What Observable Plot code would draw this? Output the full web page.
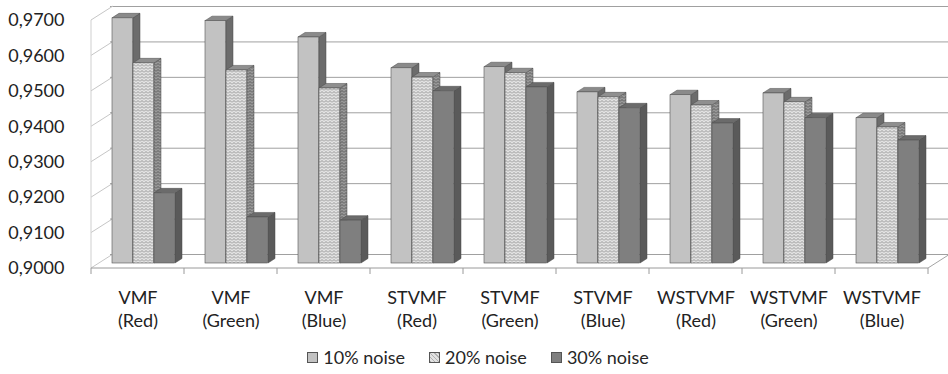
<!DOCTYPE html>
<html>
<head>
<meta charset="utf-8">
<script src="https://cdn.jsdelivr.net/npm/d3@7"></script>
<script src="https://cdn.jsdelivr.net/npm/@observablehq/plot@0.6"></script>
<style>
  body { margin: 0; background: #fff; font-family: Lato, "Open Sans", sans-serif; }
  #chart { width: 948px; height: 374px; overflow: hidden; }
  #chart svg { display: block; }
  .legend { display: flex; justify-content: center; align-items: center; height: 34px;
            padding-left: 8px; font-size: 18px; color: #262626; }
  .legend .item { display: flex; align-items: center; margin: 0 12px; }
  .legend .sw { width: 9px; height: 9px; border: 1px solid #555; margin-right: 5px; display: inline-block; }
</style>
</head>
<body>
<div id="chart"></div>
<script>
// Filter methods and colour channels, one group per category
const methods  = ["VMF", "VMF", "VMF", "STVMF", "STVMF", "STVMF", "WSTVMF", "WSTVMF", "WSTVMF"];
const channels = ["Red", "Green", "Blue", "Red", "Green", "Blue", "Red", "Green", "Blue"];

// Scores per noise level
const noise10 = [0.9692, 0.9684, 0.9638, 0.9551, 0.9554, 0.9483, 0.9475, 0.9480, 0.9410];
const noise20 = [0.9565, 0.9545, 0.9494, 0.9525, 0.9537, 0.9469, 0.9446, 0.9455, 0.9384];
const noise30 = [0.9198, 0.9130, 0.9121, 0.9486, 0.9497, 0.9438, 0.9395, 0.9410, 0.9347];

const seriesNames = ["10% noise", "20% noise", "30% noise"];
const yTicks = [0.90, 0.91, 0.92, 0.93, 0.94, 0.95, 0.96, 0.97];

const categories = methods.map((m, i) => `${m}\n(${channels[i]})`);
const seriesValues = [noise10, noise20, noise30];
const rows = categories.map((c, i) => ({category: c, values: seriesValues.map(v => v[i])}));

// Layout of the pseudo-3D frame
const W = 948, H = 340;
const frontLeft = 88, frontRight = 930, floorY = 268, topY = 20;
const wallDx = 22, wallDy = -14;      // back wall offset
const barDx = 8, barDy = -5;          // bars' front plane
const depthDx = 7, depthDy = -4.5;    // bar thickness
const step = (frontRight - frontLeft) / categories.length;
const groupInset = 13, barW = 21;
const yMin = yTicks[0];

const frontFill = ["#c2c2c2", "url(#zz-front)", "#7f7f7f"];
const topFill   = ["#8a8a8a", "#8f8f8f", "#6b6b6b"];
const sideFill  = ["#6c6c6c", "url(#zz-side)", "#5a5a5a"];

const fmtTick = d => d.toFixed(4).replace(".", ",");

const chart = Plot.plot({
  width: W,
  height: H,
  marginLeft: frontLeft,
  marginRight: W - frontRight,
  marginTop: topY,
  marginBottom: H - floorY,
  style: {fontFamily: "Lato, sans-serif", fontSize: "18px", color: "#262626", background: "#fff", overflow: "visible"},
  x: {type: "band", domain: categories, padding: 0, label: null},
  y: {domain: [yMin, yTicks[yTicks.length - 1]], label: null},
  marks: [
    // back-wall gridlines
    Plot.ruleY(yTicks, {dx: wallDx, dy: wallDy, stroke: "#a0a0a0", strokeWidth: 1}),
    Plot.axisY(yTicks, {tickSize: 0, tickPadding: 24, tickFormat: fmtTick, fontSize: 18, fill: "#222"}),
    Plot.axisX({tickSize: 0, tickPadding: 18, lineHeight: 1.33, fontSize: 18, fill: "#222"}),
    // front faces of the columns
    ...seriesValues.map((vals, s) => Plot.barY(rows, {
      x: "category",
      y1: () => yMin,
      y2: d => d.values[s],
      insetLeft: groupInset + barW * s,
      insetRight: step - groupInset - barW * (s + 1),
      dx: barDx,
      dy: barDy,
      fill: frontFill[s],
      stroke: "#555",
      strokeWidth: 0.6
    }))
  ]
});

document.getElementById("chart").appendChild(chart);

// Patterns, walls and column depth drawn with Plot's own scales
const svg = d3.select(chart);
const xs = chart.scale("x"), ys = chart.scale("y");
const defs = svg.insert("defs", ":first-child");
function zigzag(id, bg, fg) {
  const p = defs.append("pattern").attr("id", id).attr("patternUnits", "userSpaceOnUse")
    .attr("width", 4).attr("height", 3);
  p.append("rect").attr("width", 4).attr("height", 3).attr("fill", bg);
  p.append("path").attr("d", "M0,2.5 L2,0.5 L4,2.5").attr("fill", "none").attr("stroke", fg).attr("stroke-width", 0.9);
}
zigzag("zz-front", "#e2e2e2", "#8e8e8e");
zigzag("zz-side", "#999", "#555");

const firstBar = svg.select("g[aria-label='bar']").node();
const walls = svg.insert("g", () => firstBar).attr("fill", "none");
const y0 = ys.apply(yMin);
const xL = xs.apply(categories[0]);
const xR = xs.apply(categories[categories.length - 1]) + xs.bandwidth;

// left wall diagonals
for (const t of yTicks) {
  const y = ys.apply(t);
  walls.append("line").attr("x1", xL).attr("y1", y).attr("x2", xL + wallDx).attr("y2", y + wallDy)
    .attr("stroke", "#c6c6c6");
}
walls.append("line").attr("x1", xL).attr("y1", y0).attr("x2", xL).attr("y2", ys.apply(yTicks[yTicks.length - 1]))
  .attr("stroke", "#cfcfcf");
// floor edges and category ticks
walls.append("line").attr("x1", xL).attr("y1", y0).attr("x2", xR).attr("y2", y0).attr("stroke", "#9a9a9a");
walls.append("line").attr("x1", xR).attr("y1", y0).attr("x2", xR + wallDx).attr("y2", y0 + wallDy).attr("stroke", "#a4a4a4");
for (let k = 0; k <= categories.length; k++) {
  const x = xL + k * xs.bandwidth;
  walls.append("line").attr("x1", x).attr("y1", y0).attr("x2", x).attr("y2", y0 + 6).attr("stroke", "#9a9a9a");
}

// top and side faces of every column
const faces = svg.insert("g", () => firstBar).attr("stroke", "#4a4a4a").attr("stroke-width", 0.5);
rows.forEach(r => {
  r.values.forEach((v, s) => {
    const x0 = xs.apply(r.category) + groupInset + barW * s + barDx;
    const x1 = x0 + barW;
    const yt = ys.apply(v) + barDy;
    const yb = y0 + barDy;
    faces.append("path")
      .attr("d", `M${x1},${yt}L${x1 + depthDx},${yt + depthDy}L${x1 + depthDx},${yb + depthDy}L${x1},${yb}Z`)
      .attr("fill", sideFill[s]);
    faces.append("path")
      .attr("d", `M${x0},${yt}L${x1},${yt}L${x1 + depthDx},${yt + depthDy}L${x0 + depthDx},${yt + depthDy}Z`)
      .attr("fill", topFill[s]);
  });
});

// legend below the plot
const legend = d3.select("#chart").append("div").attr("class", "legend");
const swatchBg = ["#c2c2c2", "repeating-linear-gradient(45deg,#b0b0b0 0 1px,#e2e2e2 1px 3px)", "#7f7f7f"];
seriesNames.forEach((name, s) => {
  const item = legend.append("span").attr("class", "item");
  item.append("i").attr("class", "sw").style("background", swatchBg[s]);
  item.append("span").text(name);
});
</script>
</body>
</html>
